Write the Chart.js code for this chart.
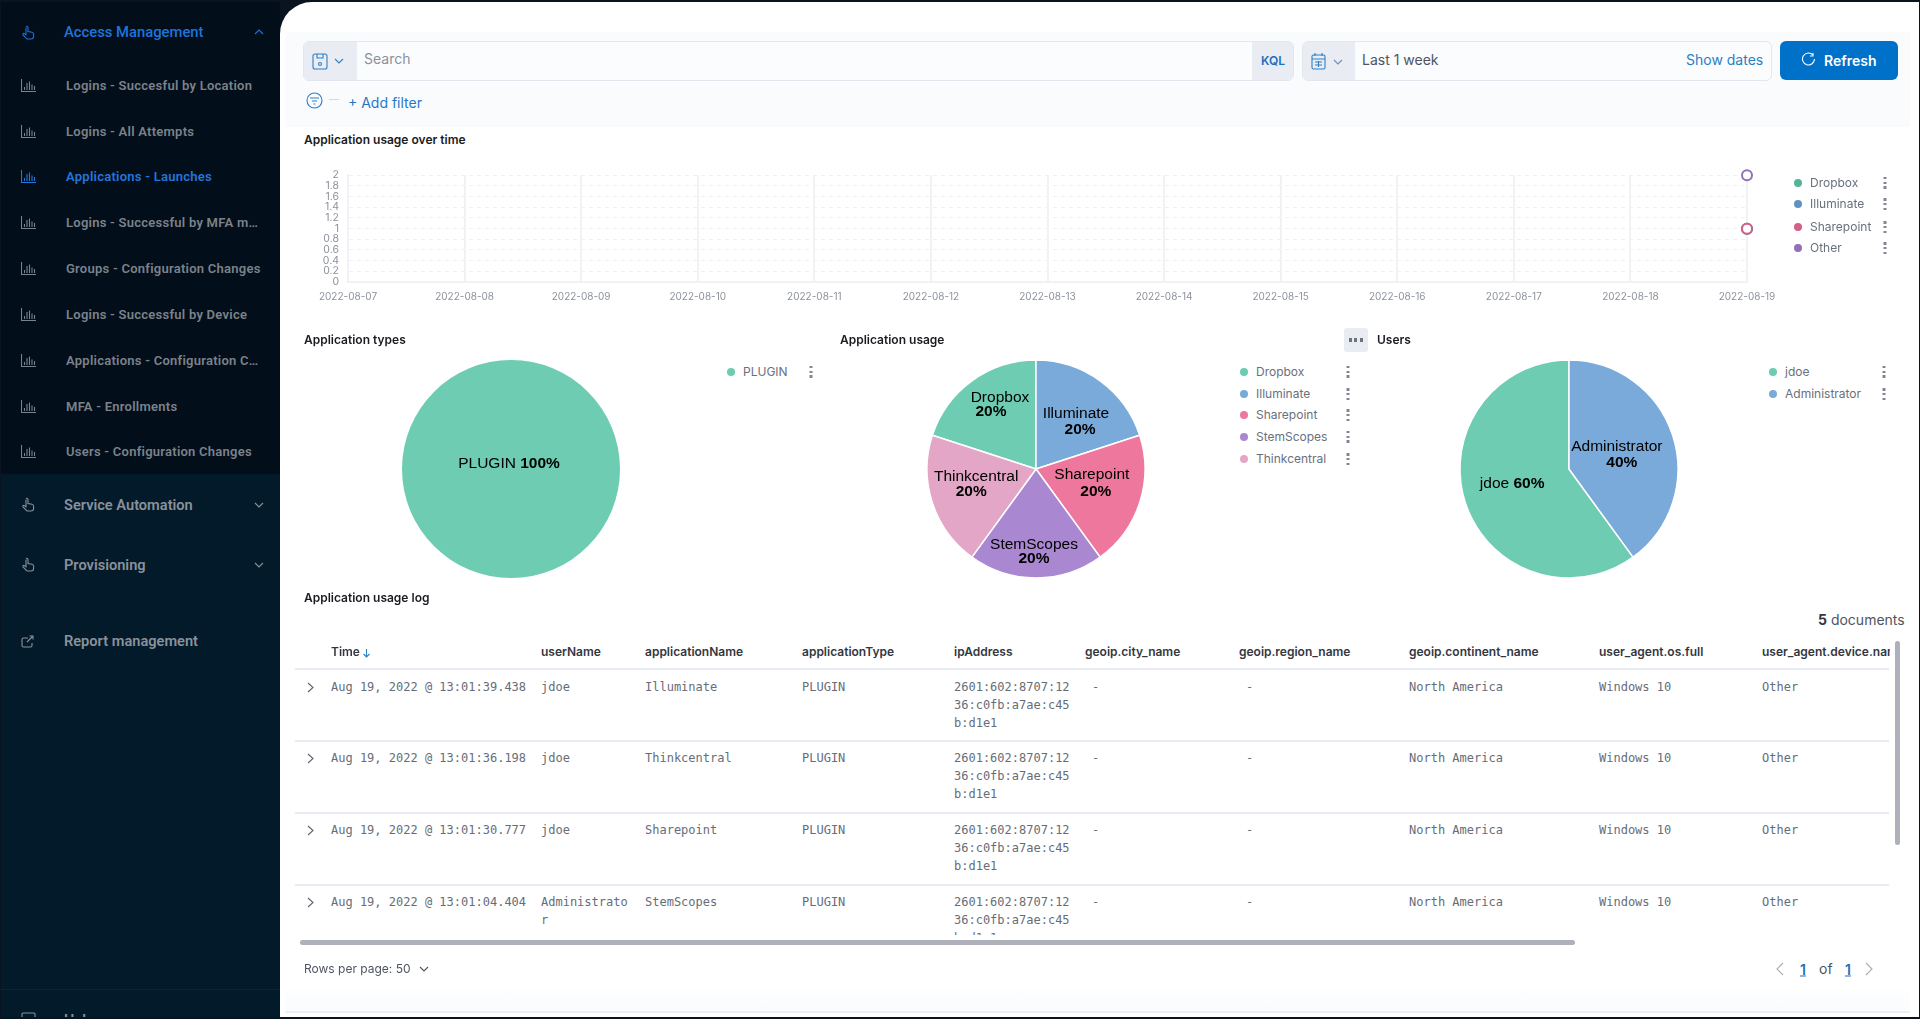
<!DOCTYPE html>
<html><head><meta charset="utf-8"><title>Applications - Launches</title>
<script src="https://cdn.jsdelivr.net/npm/chart.js@4"></script>
<style>
html,body{margin:0;padding:0;width:1920px;height:1019px;overflow:hidden;background:#0a1420;font-family:Inter,sans-serif}
.a{position:absolute;white-space:nowrap;line-height:1}
#side{position:absolute;left:1px;top:2px;width:279px;height:1015px;background:#031a2b;overflow:hidden}
#sideTop{position:absolute;left:0;top:0;width:279px;height:472px;background:#020e1a}
#sideLine{position:absolute;left:0;top:987px;width:279px;height:1px;background:#0a2537}
#main{position:absolute;left:280px;top:2px;width:1639px;height:1015px;background:#fff;border-top-left-radius:32px;overflow:hidden}
#band{position:absolute;left:285px;top:32px;width:1625px;height:95px;background:#fafbfd}
.box{position:absolute;background:#fbfcfd;border:1px solid #e2e6ef;border-radius:6px;box-sizing:border-box;overflow:hidden}
.pre{position:absolute;top:0;bottom:0;background:#e9edf3}
.ttl{font-weight:600;font-size:12px;color:#1a1c21}
.lg{font-size:12px;color:#69707d}
.dot{position:absolute;width:8px;height:8px;border-radius:50%;transform:translate(-50%,-50%)}
.men{position:absolute;width:3px;height:12px;transform:translate(-50%,-50%);background:repeating-linear-gradient(#808792 0 2.500px,#fff 2.500px 4.750px)}
canvas{position:absolute}
.hd{font-weight:600;font-size:12px;color:#343741}
.cell{font-family:"DejaVu Sans Mono",monospace;font-size:12px;color:#666d79;line-height:18px;white-space:normal;word-break:break-all}
.rl{position:absolute;height:2px;background:#e9ecf4;left:295px;width:1594px}
svg{position:absolute}
</style></head><body>
<div id="side"><div id="sideTop"></div><div id="sideLine"></div></div>
<div id="main"></div>
<div id="band"></div>
<div class="box" style="left:303px;top:41px;width:991px;height:40px"><div class="pre" style="left:0;width:53px"></div><div class="pre" style="right:0;width:41px"></div></div>
<div class="box" style="left:1302px;top:41px;width:470px;height:40px"><div class="pre" style="left:0;width:52px"></div></div>
<div class="a" style="left:1780px;top:41px;width:118px;height:39px;background:#0071c9;border-radius:6px"></div>
<div class="a" style="left:1344px;top:328px;width:24px;height:24px;background:#e9ecf1;border-radius:3px"></div>
<div class="a" style="left:285px;top:985px;width:1625px;height:27px;background:linear-gradient(#fff,#fafbfd)"></div>
<div class="a" style="left:285px;top:1011px;width:1625px;height:2px;background:#eceff4"></div>
<div class="a" style="left:300px;top:940px;width:1275px;height:5px;background:#aeb0ba;border-radius:3px"></div>
<div class="a" style="left:1895px;top:641px;width:5px;height:204px;background:#aeb0ba;border-radius:3px"></div>
<canvas id="timeChart" style="left:280px;top:160px" width="1520" height="150"></canvas>
<canvas id="typePie" style="left:381px;top:339px" width="260" height="260"></canvas>
<canvas id="usagePie" style="left:906px;top:339px" width="260" height="260"></canvas>
<canvas id="userPie" style="left:1439px;top:339px" width="260" height="260"></canvas>
<div id="ui"></div>
<script>
const dates = ["2022-08-07","2022-08-08","2022-08-09","2022-08-10","2022-08-11","2022-08-12","2022-08-13","2022-08-14","2022-08-15","2022-08-16","2022-08-17","2022-08-18","2022-08-19"];
const timeSeriesNames = ["Dropbox","Illuminate","Sharepoint","Other"];
const dropboxOverTime = [null,null,null,null,null,null,null,null,null,null,null,null,1];
const illuminateOverTime = [null,null,null,null,null,null,null,null,null,null,null,null,1];
const sharepointOverTime = [null,null,null,null,null,null,null,null,null,null,null,null,1];
const otherOverTime = [null,null,null,null,null,null,null,null,null,null,null,null,2];
const timeColors = ["#54b399","#6092c0","#d36086","#9170b8"];
const typeNames = ["PLUGIN"];
const typeValues = [100];
const usageNames = ["Dropbox","Illuminate","Sharepoint","StemScopes","Thinkcentral"];
const usageValues = [20,20,20,20,20];
const userNames = ["jdoe","Administrator"];
const userValues = [60,40];
const navGroups = ["Access Management","Service Automation","Provisioning","Report management"];
const navItems = ["Logins - Succesful by Location","Logins - All Attempts","Applications - Launches","Logins - Successful by MFA m…","Groups - Configuration Changes","Logins - Successful by Device","Applications - Configuration C…","MFA - Enrollments","Users - Configuration Changes"];
const tableColumns = ["Time","userName","applicationName","applicationType","ipAddress","geoip.city_name","geoip.region_name","geoip.continent_name","user_agent.os.full","user_agent.device.name"];
const rowTimes = ["Aug 19, 2022 @ 13:01:39.438","Aug 19, 2022 @ 13:01:36.198","Aug 19, 2022 @ 13:01:30.777","Aug 19, 2022 @ 13:01:04.404"];
const rowUsers = ["jdoe","jdoe","jdoe","Administrator"];
const rowApps = ["Illuminate","Thinkcentral","Sharepoint","StemScopes"];
const rowType = "PLUGIN", rowIp = "2601:602:8707:1236:c0fb:a7ae:c45b:d1e1", rowContinent = "North America", rowOs = "Windows 10", rowDevice = "Other";

const pieColors = ["#6dccb1","#79aad9","#ee789d","#a987d1","#e4a6c7"];
const ui = document.getElementById('ui');
function el(cls,html,style){const d=document.createElement('div');d.className=cls;d.innerHTML=html;d.style.cssText=style;ui.appendChild(d);return d;}
function svg(x,y,w,h,body,col,sw){const s=`<svg style="left:${x}px;top:${y}px" width="${w}" height="${h}" viewBox="0 0 ${w} ${h}" fill="none" stroke="${col}" stroke-width="${sw||1.1}">${body}</svg>`;ui.insertAdjacentHTML('beforeend',s);}
const chevD='<path d="M1 1l4 4 4-4"/>', chevU='<path d="M1 5l4-4 4 4"/>';
const hand='<path d="M5 1.500c1-.6 2 .1 2 1v4l4 .8c1.200.3 1.600 1 1.600 2v2.200c0 1.500-1.200 2.500-2.600 2.500H7c-1 0-1.800-.5-2.300-1.300L2 9.800c-.5-.8.4-1.800 1.300-1.200L5 9.700V2.500"/>';
const bars='<path d="M.5 1v12.500H15M3.500 12V9M6 12V5M8.500 12V3.500M11 12V6.500M13.500 12V8"/>';
const ext='<path d="M7 3H2.500C1.700 3 1 3.700 1 4.500v6C1 11.300 1.700 12 2.500 12h7c.8 0 1.500-.7 1.500-1.500V8M6 7l6-6M8.500 1H12v3.500"/>';

// sidebar
el('a',navGroups[0],'left:64px;top:32px;font:500 14.800px Roboto;color:#1f74d8;transform:translateY(-50%)');
svg(21,25,15,16,hand,'#1f74d8');svg(254,29,10,7,chevU,'#1f74d8');
const itemY=[85,131,176,222,268,314,360,406,451];
navItems.forEach((t,i)=>{const c=i==2?'#2277dc':'#7c828a';
 el('a',t,`left:66px;top:${itemY[i]}px;font:600 13px Roboto;letter-spacing:.25px;color:${c};transform:translateY(-50%)`);
 svg(21,itemY[i]-7,16,15,bars,c);});
[[1,505],[2,565]].forEach(([g,y])=>{el('a',navGroups[g],`left:64px;top:${y}px;font:600 14.600px Roboto;color:#8a9199;transform:translateY(-50%)`);
 svg(21,y-8,15,16,hand,'#8a9199');svg(254,y-3,10,7,chevD,'#8a9199');});
el('a',navGroups[3],'left:64px;top:641px;font:600 14.600px Roboto;color:#8a9199;transform:translateY(-50%)');
svg(21,635,14,13,ext,'#8a9199');
el('a','Help','left:64px;top:1011px;height:6px;overflow:hidden;font:600 14.600px Roboto;color:#8a9199');
svg(21,1012,15,5,'<rect x="1" y="1" width="13" height="12" rx="1"/>','#8a9199');

// query bar
el('a','Search','left:364px;top:59px;font-size:14px;color:#8a919c;transform:translateY(-50%)');
svg(312,53,17,18,'<rect x="1" y="1" width="14" height="15" rx="2"/><path d="M5 1v4h6V1"/><circle cx="8" cy="11" r="1.500"/>','#2d7fc6');
svg(334,58,10,7,chevD,'#2d7fc6');
el('a','KQL','left:1261px;top:60px;font:600 12px Inter;color:#1f70b8;transform:translateY(-50%)');
svg(1311,52,15,18,'<rect x="1" y="3" width="13" height="14" rx="1.500"/><path d="M1 7h13M4 1v3M11 1v3M4 10h7M4 13h7M7.500 9v6"/>','#2d7fc6');
svg(1333,59,10,7,chevD,'#6a90b5');
el('a','Last 1 week','left:1362px;top:60px;font-size:14px;color:#4d5563;transform:translateY(-50%)');
el('a','Show dates','left:1686px;top:60px;font-size:14px;color:#2a7fc4;transform:translateY(-50%)');
svg(1802,52,13,16,'<path d="M11 3A6 6 0 1 0 12.500 7M11 1v3H8"/>','#fff');
el('a','Refresh','left:1824px;top:60px;font:600 14px Inter;color:#fff;transform:translateY(-50%)');
svg(306,92,17,17,'<circle cx="8.500" cy="8.500" r="7.500"/><path d="M4 6h9M6 9h5M7.500 12h2"/>','#2d7fc6');
el('a','','left:329px;top:99px;width:10px;height:1px;background:#d4d8df');
el('a','+ Add filter','left:348px;top:103px;font-size:14px;color:#1f78c8;transform:translateY(-50%)');

// titles
el('a ttl','Application usage over time','left:304px;top:140px;transform:translateY(-50%)');
el('a ttl','Application types','left:304px;top:340px;transform:translateY(-50%)');
el('a ttl','Application usage','left:840px;top:340px;transform:translateY(-50%)');
el('a ttl','Users','left:1377px;top:340px;transform:translateY(-50%)');
el('men','','left:1356px;top:340px;width:14px;height:4px;background:repeating-linear-gradient(90deg,#6b7280 0 3px,#e9ecf1 3px 5.500px)');
el('a ttl','Application usage log','left:304px;top:598px;transform:translateY(-50%)');

// legends
function legend(names,cols,dotX,textX,menuX,ys){names.forEach((n,i)=>{
 el('dot','',`left:${dotX}px;top:${ys[i]}px;background:${cols[i]}`);
 el('a lg',n,`left:${textX}px;top:${ys[i]}px;transform:translateY(-50%)`);
 el('men','',`left:${menuX}px;top:${ys[i]}px`);});}
legend(timeSeriesNames,timeColors,1798,1810,1885,[183,204,227,248]);
legend(typeNames,pieColors,731,743,811,[372]);
legend(usageNames,pieColors,1244,1256,1348,[372,394,415,437,459]);
legend(userNames,pieColors,1773,1785,1884,[372,394]);

// table
const colX=[331,541,645,802,954,1085,1239,1409,1599,1762];
tableColumns.forEach((c,i)=>{const extra=i==9?'width:128px;overflow:hidden;line-height:14px;':'';
 el('a hd',c,`left:${colX[i]}px;top:652px;${extra}transform:translateY(-50%)`);});
svg(362,648,9,10,'<path d="M4.500 1v8M1.500 6l3 3 3-3"/>','#2d7fc6');
const clip=el('a','','left:280px;top:670px;width:1620px;height:265px;overflow:hidden;white-space:normal');
function cell(t,x,y,w){const d=document.createElement('div');d.className='a cell';d.textContent=t;d.style.cssText=`left:${x-280}px;top:${y}px;width:${w}px`;clip.appendChild(d);}
[741,813,885].forEach(y=>el('rl','',`top:${y-1}px`));
el('rl','','top:668px');
[678,749,821,893].forEach((y,i)=>{const top=y-670;
 svg(307,y+4,7,11,'<path d="M1 1l5 4.500-5 4.500"/>','#5b6270');
 cell(rowTimes[i],331,top,200);cell(rowUsers[i],541,top,92);cell(rowApps[i],645,top,150);cell(rowType,802,top,100);
 cell(rowIp,954,top,118);cell('-',1092,top,20);cell('-',1246,top,20);cell(rowContinent,1409,top,150);cell(rowOs,1599,top,120);cell(rowDevice,1762,top,80);});
el('a','Rows per page: 50','left:304px;top:969px;font-size:12px;color:#4d5563;transform:translateY(-50%)');
svg(419,966,10,7,chevD,'#4d5563');
el('a','<b style="font-weight:700;color:#343741">5</b> documents','left:1818px;top:620px;font-size:14px;color:#4d5563;transform:translateY(-50%)');
svg(1776,962,8,14,'<path d="M7 1L1 7l6 6"/>','#a8adb5');
el('a','1','left:1800px;top:969px;font:600 14px Inter;color:#1f70b8;text-decoration:underline;transform:translateY(-50%)');
el('a','of','left:1819px;top:969px;font-size:14px;color:#4d5563;transform:translateY(-50%)');
el('a','1','left:1845px;top:969px;font:600 14px Inter;color:#1f70b8;text-decoration:underline;transform:translateY(-50%)');
svg(1865,962,8,14,'<path d="M1 1l6 6-6 6"/>','#a8adb5');

// charts
const ring=(label,data,color,i)=>({label,data,borderColor:color,backgroundColor:'#fff',pointBackgroundColor:'#fff',pointBorderColor:color,pointRadius:5,pointBorderWidth:2,borderWidth:2,order:3-i,spanGaps:false});
new Chart(document.getElementById('timeChart'),{type:'line',
 data:{labels:dates,datasets:[ring(timeSeriesNames[0],dropboxOverTime,timeColors[0],0),ring(timeSeriesNames[1],illuminateOverTime,timeColors[1],1),ring(timeSeriesNames[2],sharepointOverTime,timeColors[2],2),ring(timeSeriesNames[3],otherOverTime,timeColors[3],3)]},
 options:{responsive:false,animation:false,clip:false,layout:{padding:{top:15,left:0,right:53,bottom:0}},
  plugins:{legend:{display:false},tooltip:{enabled:false}},
  scales:{
   x:{offset:false,grid:{color:'#f0f2f6',lineWidth:2,drawTicks:false,tickLength:0},border:{color:'#f0f2f6',width:2},
      ticks:{autoSkip:false,maxRotation:0,padding:9,color:'#8d929b',font:{family:'Inter',size:10}},
      afterFit:s=>{s.height=28;}},
   y:{min:0,max:2,grid:{color:'#f0f1f5',lineWidth:1,drawTicks:false,tickLength:0},border:{color:'#f0f2f6',width:2,dash:[4,4]},
      ticks:{stepSize:0.2,padding:9,color:'#8d929b',font:{family:'Inter',size:10.500},autoSkip:false,callback:v=>String(+v.toFixed(1))},
      afterFit:s=>{s.width=68;}}}}});

const F='15.500px "Liberation Sans"',B='bold 15.500px "Liberation Sans"';
const sliceLabels={id:'sliceLabels',afterDatasetsDraw(c,a,o){
 const ctx=c.ctx,meta=c.getDatasetMeta(0);ctx.save();ctx.fillStyle='#000';ctx.textBaseline='middle';ctx.textAlign='center';
 meta.data.forEach((arc,i)=>{const p=arc.tooltipPosition(),s=o.shifts[i],name=c.data.labels[i],pct=c.data.datasets[0].data[i]+'%';
  if(s.length==4){ctx.font=F;ctx.fillText(name,p.x+s[0],p.y+s[1]);ctx.font=B;ctx.fillText(pct,p.x+s[2],p.y+s[3]);}
  else{ctx.font=F;const w1=ctx.measureText(name+' ').width;ctx.font=B;const w2=ctx.measureText(pct).width;
   const x0=p.x+s[0]-(w1+w2)/2;ctx.textAlign='left';ctx.font=F;ctx.fillText(name+' ',x0,p.y+s[1]);ctx.font=B;ctx.fillText(pct,x0+w1,p.y+s[1]);ctx.textAlign='center';}
 });ctx.restore();}};
function pie(id,labels,values,rotation,shifts){new Chart(document.getElementById(id),{type:'pie',plugins:[sliceLabels],
 data:{labels,datasets:[{data:values,backgroundColor:pieColors.slice(0,values.length),borderColor:'#fff',borderWidth:values.length>1?1.500:0,radius:109}]},
 options:{responsive:false,animation:false,rotation,plugins:{legend:{display:false},tooltip:{enabled:false},sliceLabels:{shifts}}}});}
pie('typePie',typeNames,typeValues,0,[[-2,-60]]);
pie('usagePie',usageNames,usageValues,-72,[[-4,-27,-13,-13],[8,-11,12,5],[4,-11,8,6],[-2,21,-2,35],[-8,-9,-13,6]]);
pie('userPie',userNames,userValues,144,[[-5,-2],[-4,-5,1,11]]);
</script></body></html>
